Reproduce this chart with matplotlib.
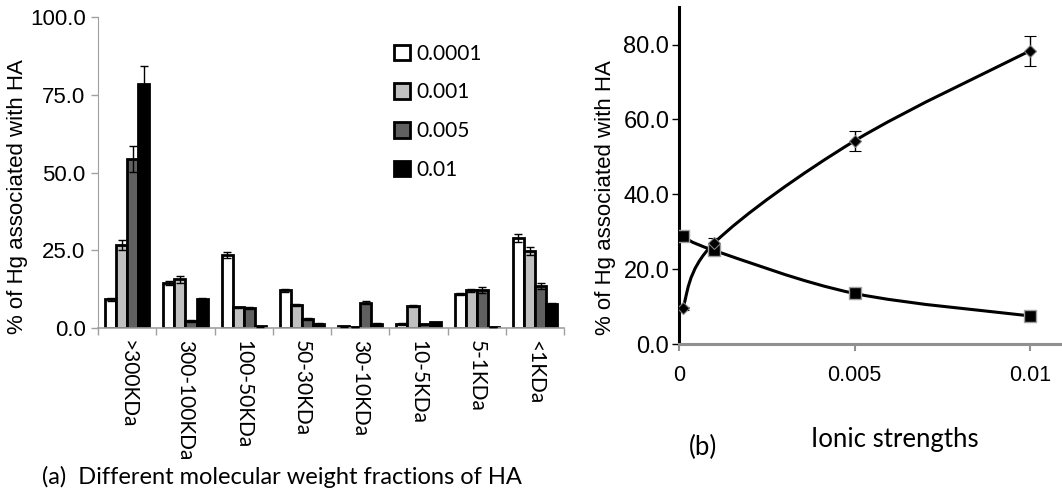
import numpy as np
import matplotlib
matplotlib.use("Agg")
import matplotlib.pyplot as plt
from matplotlib.path import Path
from matplotlib.patches import PathPatch, Patch

# (a) bar chart data
fractions = [">300KDa", "300-100KDa", "100-50KDa", "50-30KDa",
             "30-10KDa", "10-5KDa", "5-1KDa", "<1KDa"]
strengths = ["0.0001", "0.001", "0.005", "0.01"]
vals_00001 = [9.3, 14.5, 23.4, 12.2, 0.6, 1.3, 10.9, 29.0]
vals_0001 = [26.7, 15.6, 6.6, 7.3, 0.3, 7.2, 12.1, 24.8]
vals_0005 = [54.3, 2.3, 6.4, 2.8, 8.2, 1.2, 12.1, 13.5]
vals_001 = [78.4, 9.2, 0.5, 1.4, 1.3, 1.8, 0.3, 7.7]
err_00001 = [0.5, 0.6, 1.0, 0.5, 0.2, 0.2, 0.4, 1.3]
err_0001 = [1.5, 1.0, 0.3, 0.3, 0.1, 0.3, 0.5, 1.3]
err_0005 = [4.2, 0.3, 0.4, 0.3, 0.5, 0.2, 1.0, 1.0]
err_001 = [5.8, 0.5, 0.1, 0.2, 0.2, 0.2, 0.1, 0.3]
bar_colors = ["white", "#c0c0c0", "#606060", "black"]

# (b) line chart data
ionic = [0.0001, 0.001, 0.005, 0.01]
hg_diamond = [9.5, 27.0, 54.3, 78.4]
hg_diamond_err = [0.5, 1.2, 2.7, 4.0]
hg_square = [28.8, 25.0, 13.5, 7.5]

arial = "Liberation Sans"
calibri = "Lato"


def smooth_path(xs, ys):
    # Excel-style smoothed line as cubic bezier segments
    pts = np.column_stack([xs, ys])
    n = len(pts)
    verts = [pts[0]]
    codes = [Path.MOVETO]
    for i in range(n - 1):
        p0 = pts[i - 1] if i > 0 else pts[i]
        p1 = pts[i]
        p2 = pts[i + 1]
        p3 = pts[i + 2] if i + 2 < n else pts[i + 1]
        c1 = p1 + (p2 - p0) / 6.0
        c2 = p2 - (p3 - p1) / 6.0
        verts += [c1, c2, p2]
        codes += [Path.CURVE4] * 3
    return Path(verts, codes)


fig = plt.figure(figsize=(10.62, 4.99), dpi=100)

# ---- panel (a)
ax1 = fig.add_axes([0.0923, 0.3427, 0.439, 0.623])
x = np.arange(len(fractions))
w = 0.19
series = [vals_00001, vals_0001, vals_0005, vals_001]
errs = [err_00001, err_0001, err_0005, err_001]
for k, (v, e) in enumerate(zip(series, errs)):
    pos = x + (k - 1.5) * w
    ax1.bar(pos, v, width=w, color=bar_colors[k], edgecolor="black",
            linewidth=2, label=strengths[k], zorder=2)
    ax1.errorbar(pos, v, yerr=e, fmt="none", ecolor="black", elinewidth=1,
                 capsize=3, capthick=1, zorder=3)

ax1.set_xlim(-0.5, len(fractions) - 0.5)
ax1.set_ylim(0, 100)
ax1.set_yticks([0, 25, 50, 75, 100])
ax1.set_yticklabels(["%.1f" % t for t in [0, 25, 50, 75, 100]],
                    fontfamily=arial, fontsize=16)
ax1.set_xticks(x)
ax1.set_xticklabels(fractions, rotation=-90, fontfamily=calibri, fontsize=15,
                    va="top", ha="center")
ax1.set_xticks(np.arange(len(fractions) + 1) - 0.5, minor=True)
ax1.tick_params(axis="x", which="major", length=0, pad=9)
ax1.tick_params(axis="x", which="minor", length=5, color="#a0a0a0", width=1)
ax1.tick_params(axis="y", length=5, color="#a0a0a0", width=1, pad=4)
for s in ["top", "right"]:
    ax1.spines[s].set_visible(False)
ax1.spines["left"].set_color("#a0a0a0")
ax1.spines["bottom"].set_color("#a0a0a0")
ax1.spines["bottom"].set_linewidth(1.2)
ax1.set_ylabel("% of Hg associated with HA", fontfamily=arial, fontsize=16)
ax1.yaxis.set_label_coords(-0.15, 0.424)

handles = [Patch(facecolor=c, edgecolor="black", linewidth=2) for c in bar_colors]
ax1.legend(handles, strengths, loc="upper left", bbox_to_anchor=(0.595, 0.975),
           frameon=False, prop={"family": calibri, "size": 15},
           handlelength=0.75, handleheight=0.75, handletextpad=0.3,
           labelspacing=0.9)

fig.text(0.04, 0.03, "(a)  Different molecular weight fractions of HA",
         fontfamily=calibri, fontsize=17, ha="left", va="baseline")

# ---- panel (b)
ax2 = fig.add_axes([0.6394, 0.3106, 0.3606, 0.675])
ax2.add_patch(PathPatch(smooth_path(ionic, hg_diamond), fill=False,
                        edgecolor="black", linewidth=2.2, zorder=2))
ax2.add_patch(PathPatch(smooth_path(ionic, hg_square), fill=False,
                        edgecolor="black", linewidth=2.2, zorder=2))
ax2.errorbar(ionic, hg_diamond, yerr=hg_diamond_err, fmt="D", color="black",
             markersize=6, markeredgecolor="#808080", markeredgewidth=0.8,
             ecolor="black", elinewidth=1, capsize=4, capthick=1, zorder=3)
ax2.plot(ionic, hg_square, "s", color="black", markersize=8,
         markeredgecolor="#a0a0a0", markeredgewidth=1, zorder=3)

ax2.set_xlim(0, 0.0109)
ax2.set_ylim(0, 90)
ax2.set_xticks([0, 0.005, 0.01])
ax2.set_xticklabels(["0", "0.005", "0.01"], fontfamily=arial, fontsize=15.5)
ax2.set_yticks([0, 20, 40, 60, 80])
ax2.set_yticklabels(["%.1f" % t for t in [0, 20, 40, 60, 80]],
                    fontfamily=arial, fontsize=17)
ax2.tick_params(axis="x", length=5, color="#909090", width=1.5, pad=10)
ax2.tick_params(axis="y", length=5, color="black", width=1, pad=2)
for s in ["top", "right"]:
    ax2.spines[s].set_visible(False)
ax2.spines["left"].set_color("black")
ax2.spines["left"].set_linewidth(2.2)
ax2.spines["bottom"].set_color("#909090")
ax2.spines["bottom"].set_linewidth(2.2)
ax2.set_ylabel("% of Hg associated with HA", fontfamily=arial, fontsize=16)
ax2.yaxis.set_label_coords(-0.164, 0.436)

fig.text(0.8427, 0.104, "Ionic strengths", fontfamily=calibri, fontsize=18.5,
         ha="center", va="baseline")
fig.text(0.662, 0.088, "(b)", fontfamily=calibri, fontsize=18.5,
         ha="center", va="baseline")

fig.savefig("out.png", dpi=100)
